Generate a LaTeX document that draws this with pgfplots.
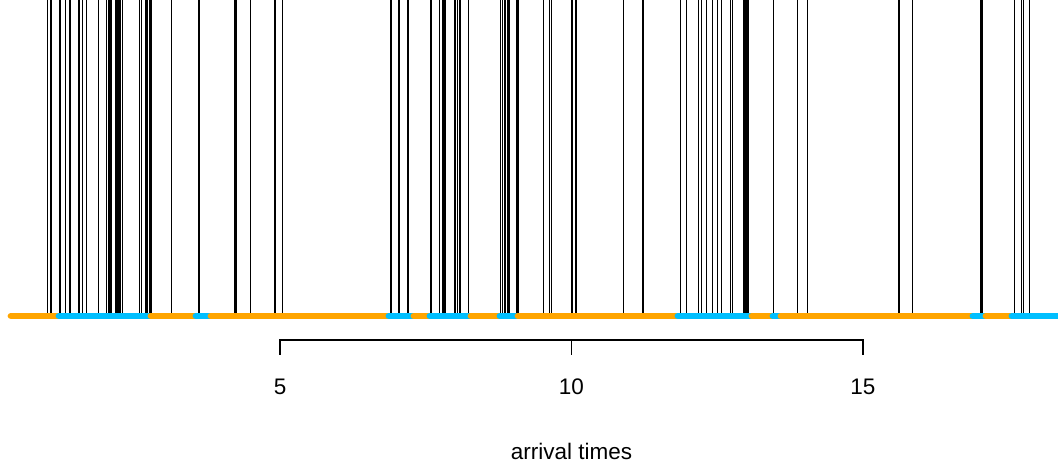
\documentclass[border=0pt]{standalone}
\usepackage{pgfplots}
\pgfplotsset{compat=1.18}
\usepackage{pgfplotstable}
\usepackage{fontspec}
\setmainfont{Liberation Sans}
\definecolor{rorange}{HTML}{FFA500}
\definecolor{rblue}{HTML}{00BFFF}

\pgfplotstableread{
t h
1.015 1
1.072 1
1.226 1
1.324 1
1.398 1
1.552 1
1.616 1
1.684 1
1.883 1
2.027 1
2.055 1
2.084 1
2.113 1
2.187 1
2.209 1
2.238 1
2.268 1
2.295 1
2.587 1
2.628 1
2.702 1
2.731 1
2.758 1
2.787 1
3.142 1
3.599 1
3.619 1
4.216 1
4.245 1
4.497 1
4.914 1
5.039 1
6.904 1
7.041 1
7.196 1
7.590 1
7.732 1
7.784 1
7.813 1
7.842 1
8.002 1
8.041 1
8.079 1
8.100 1
8.233 1
8.786 1
8.820 1
8.851 1
8.871 1
8.902 1
8.928 1
9.057 1
9.082 1
9.516 1
9.623 1
9.660 1
10.009 1
10.077 1
10.888 1
11.226 1
11.875 1
11.976 1
12.178 1
12.230 1
12.321 1
12.422 1
12.499 1
12.571 1
12.727 1
12.758 1
12.950 1
12.976 1
13.002 1
13.027 1
13.470 1
13.873 1
14.045 1
15.617 1
15.844 1
17.015 1
17.041 1
17.604 1
17.719 1
17.753 1
17.856 1
}\arrivals

\begin{document}
\begin{tikzpicture}
\begin{axis}[
  scale only axis,
  width=10.58cm, height=4.62cm,
  xmin=0.197, xmax=18.345,
  ymin=-0.462, ymax=1,
  hide axis,
  clip=true,
]
\addplot[draw=none, forget plot] coordinates {(0.197,-0.462) (18.345,1)};
\addplot[ycomb, black, line width=0.35pt, mark=none] table[x=t, y=h] {\arrivals};
% state segments
\pgfplotsset{seg/.style={line width=1.9pt, line cap=round, mark=none}}
\addplot[seg, rorange] coordinates {(0.385,0) (1.208,0)};
\addplot[seg, rblue]   coordinates {(1.208,0) (2.786,0)};
\addplot[seg, rorange] coordinates {(2.786,0) (3.558,0)};
\addplot[seg, rblue]   coordinates {(3.558,0) (3.815,0)};
\addplot[seg, rorange] coordinates {(3.815,0) (6.868,0)};
\addplot[seg, rblue]   coordinates {(6.868,0) (7.297,0)};
\addplot[seg, rorange] coordinates {(7.297,0) (7.571,0)};
\addplot[seg, rblue]   coordinates {(7.571,0) (8.275,0)};
\addplot[seg, rorange] coordinates {(8.275,0) (8.772,0)};
\addplot[seg, rblue]   coordinates {(8.772,0) (9.081,0)};
\addplot[seg, rorange] coordinates {(9.081,0) (11.825,0)};
\addplot[seg, rblue]   coordinates {(11.825,0) (13.095,0)};
\addplot[seg, rorange] coordinates {(13.095,0) (13.455,0)};
\addplot[seg, rblue]   coordinates {(13.455,0) (13.592,0)};
\addplot[seg, rorange] coordinates {(13.592,0) (16.885,0)};
\addplot[seg, rblue]   coordinates {(16.885,0) (17.108,0)};
\addplot[seg, rorange] coordinates {(17.108,0) (17.554,0)};
\addplot[seg, rblue]   coordinates {(17.554,0) (18.8,0)};
% x axis (R style, spans 5 to 15)
\addplot[black, line width=0.4pt, mark=none] coordinates {(5,-0.123) (5,-0.076) (15,-0.076) (15,-0.123)};
\addplot[black, line width=0.4pt, mark=none] coordinates {(10,-0.076) (10,-0.123)};
\node[font=\fontsize{6.4pt}{7.7pt}\selectfont] at (axis cs:5,-0.223) {5};
\node[font=\fontsize{6.4pt}{7.7pt}\selectfont] at (axis cs:10,-0.223) {10};
\node[font=\fontsize{6.4pt}{7.7pt}\selectfont] at (axis cs:15,-0.223) {15};
\node[font=\fontsize{6.4pt}{7.7pt}\selectfont] at (axis cs:10,-0.428) {arrival times};
\end{axis}
\end{tikzpicture}
\end{document}
